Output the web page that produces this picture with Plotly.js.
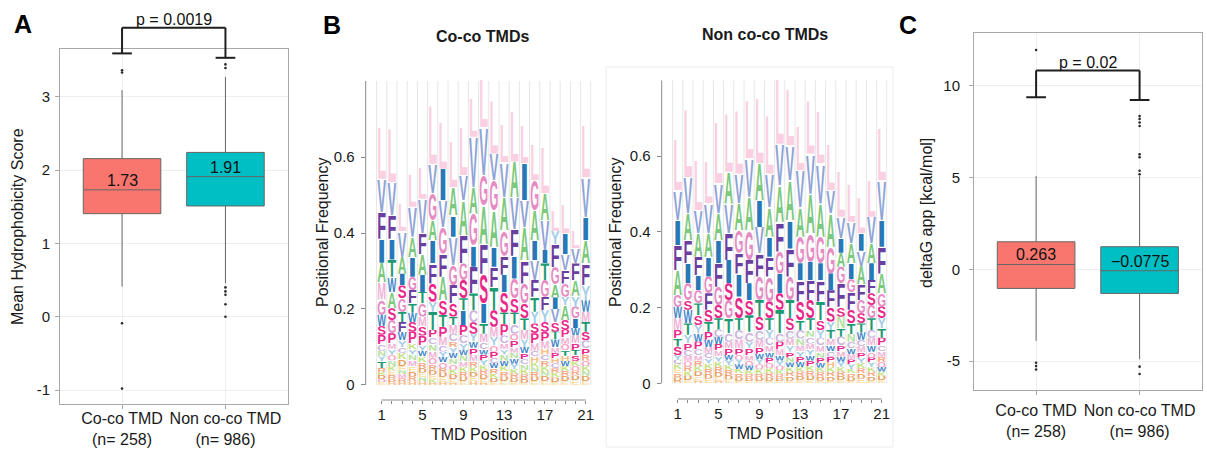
<!DOCTYPE html>
<html><head><meta charset="utf-8">
<script src="https://cdn.plot.ly/plotly-3.0.1.min.js"></script>
<style>html,body{margin:0;padding:0;background:#fff}#chart{width:1207px;height:449px}</style>
</head><body><div id="chart"></div>
<script>
// ---------------- DATA ----------------
const boxCats = ["Co-co TMD<br>(n= 258)", "Non co-co TMD<br>(n= 986)"];
const boxColors = ["#F8766D", "#00BFC4"];

// Panel A: mean hydrophobicity score
const hydroQ1 = [1.405, 1.51];
const hydroMedian = [1.73, 1.91];
const hydroQ3 = [2.155, 2.24];
const hydroLower = [0.41, 0.455];
const hydroUpper = [3.09, 3.27];
const hydroOutCoco = [3.36, 3.33, -0.09, -0.98];
const hydroOutNon = [3.44, 3.39, 0.40, 0.345, 0.30, 0.17, 0.0];
const hydroMedianLabels = ["1.73", "1.91"];
const hydroCaps = [3.59, 3.53];
const hydroBracketTop = 3.94;
const hydroP = "p = 0.0019";
const hydroTicks = [-1, 0, 1, 2, 3];
const hydroTickText = ["-1", "0", "1", "2", "3"];

// Panel C: deltaG app
const dgQ1 = [-1.04, -1.31];
const dgMedian = [0.263, -0.0775];
const dgQ3 = [1.50, 1.23];
const dgLower = [-3.89, -4.9];
const dgUpper = [5.08, 5.1];
const dgOutCoco = [11.94, -5.09, -5.27, -5.45];
const dgOutNon = [8.35, 8.19, 7.99, 7.8, 6.26, 6.1, 5.37, 5.18, -5.3, -5.7];
const dgMedianLabels = ["0.263", "\u22120.0775"];
const dgCaps = [9.37, 9.22];
const dgBracketTop = 10.82;
const dgP = "p = 0.02";
const dgTicks = [-5, 0, 5, 10];
const dgTickText = ["-5", "0", "5", "10"];

// Panel B: sequence logos (letters listed top -> bottom, with the top of each letter)
const positions = [1,2,3,4,5,6,7,8,9,10,11,12,13,14,15,16,17,18,19,20,21];
const positionLabels = ["1","","","","5","","","","9","","","","13","","","","17","","","","21"];
const freqTicks = [0, 0.2, 0.4, 0.6];
const freqTickText = ["0", "0.2", "0.4", "0.6"];

const cocoLetters = [
 "LVFIAMGWSPCNYTRKDQE","LVFITWASGPMYQNKERDH","LVAISGTFWYCKDENMRH","LVAIGFTWSPKYNMEDRH",
 "LVFAITGMSPYWKRDENH","LVGAIFSYTPCNMQRDEKH","LIVGFASTPMCYWQRDEH","LAIVGFSTMCRYWNQKDEH",
 "LVAFGSTIPCYWNMKRDE","LVAGIFTCSYWPMRKDEH","LVGAFSITMCWPYKRDEH","LVGAIFTSMYQPCWRKDE",
 "LVAGFISTPCMYNWKRDE","LAVFIGSTCQPMNWYKRDE","LIVAFGSTMYWPCNKRDE","LGAIVFTYSPMCHKNRDE",
 "LAVITGFYSPMHCRKNDE","LYFGAIVSTWMPHCRKDE","LIVFGYASPMQTHWKRDE","LVFAYGIWMPTSKQRDE",
 "LVIAFYWMTSCPRQKNDE"];
const cocoTops = [
 [.683,.543,.455,.385,.322,.27,.225,.185,.155,.132,.108,.09,.075,.062,.045,.034,.026,.016,.008],
 [.679,.534,.447,.385,.33,.285,.245,.202,.171,.136,.11,.095,.08,.065,.05,.038,.026,.015,.007],
 [.477,.405,.337,.293,.262,.228,.193,.166,.14,.118,.10,.085,.068,.05,.038,.028,.018,.008],
 [.556,.469,.39,.337,.285,.25,.215,.19,.166,.14,.11,.095,.08,.065,.05,.035,.022,.01],
 [.573,.49,.40,.345,.29,.245,.215,.18,.155,.13,.105,.09,.075,.06,.045,.032,.02,.01],
 [.74,.582,.504,.434,.381,.32,.267,.219,.193,.145,.125,.108,.09,.072,.055,.04,.027,.015,.006],
 [.696,.569,.486,.416,.346,.285,.223,.184,.153,.127,.105,.088,.074,.06,.045,.032,.02,.008],
 [.644,.521,.447,.39,.315,.263,.215,.18,.158,.136,.115,.1,.085,.07,.055,.04,.028,.015,.006],
 [.683,.552,.486,.394,.32,.276,.228,.197,.158,.131,.11,.092,.078,.062,.048,.035,.022,.01],
 [.758,.653,.521,.451,.368,.311,.241,.197,.165,.135,.115,.098,.08,.062,.048,.035,.022,.01],
 [.81,.679,.552,.473,.372,.293,.215,.162,.135,.112,.095,.08,.066,.052,.04,.028,.016,.006],
 [.753,.609,.539,.46,.364,.311,.258,.197,.153,.127,.105,.088,.072,.058,.044,.03,.018,.007],
 [.688,.587,.495,.407,.34,.29,.245,.19,.16,.13,.11,.095,.08,.064,.05,.036,.022,.01],
 [.723,.588,.495,.41,.34,.28,.228,.19,.16,.135,.118,.1,.085,.07,.056,.042,.03,.018,.007],
 [.683,.583,.486,.416,.328,.267,.215,.175,.145,.12,.1,.083,.068,.054,.04,.028,.016,.006],
 [.635,.539,.46,.381,.328,.276,.232,.193,.162,.136,.11,.09,.075,.06,.047,.035,.022,.01],
 [.626,.504,.434,.355,.32,.276,.232,.197,.166,.14,.115,.096,.08,.065,.05,.037,.024,.01],
 [.46,.405,.37,.31,.265,.23,.2,.165,.14,.12,.1,.085,.07,.057,.044,.032,.02,.008],
 [.477,.40,.345,.302,.267,.232,.21,.171,.145,.125,.108,.092,.077,.063,.05,.037,.024,.01],
 [.407,.36,.32,.276,.235,.206,.175,.15,.13,.11,.092,.078,.064,.05,.038,.025,.012],
 [.688,.547,.442,.381,.32,.263,.223,.193,.166,.14,.118,.097,.08,.064,.05,.037,.024,.01]];

const nonLetters = [
 "LVIFAGWMPTSYCKERDH","LVAFIGSWTYPCMQRKDE","LVAFIGTSYWPCMRKDEH","LVAIGFSTPWMCYKRDE",
 "LVAIFGSTCWPMYKRDEH","LAVFISGTCMPWYKRDE","LVAGFISTCMPQYWKRDE","LVAGFISTCYPMQWKRDE",
 "LAIVFGTSCMPWYQKRDE","LVAIFGSTYCMWPQKRDE","LVAFGISTCPMWYQKRDE","LVAIFGTSCMYPNWKRDE",
 "LVAGIFSTCNMYPWKRDE","LVAGIFSTNCMYWPKRDE","LVAGIFTSYCMNPWKRDE","LVAGIFSYTMWCPHKRDE",
 "LVIAGFSNTCPMWYKRDE","LVAIGFSTNCWMPYKRDE","LIVAFGSTWCMPYKRDE","LVAIFSGTCMWQPYKRDE",
 "LVIFAGSYTPCMRQWKDE"];
const nonTops = [
 [.647,.51,.431,.365,.299,.233,.202,.172,.141,.119,.097,.075,.062,.05,.038,.026,.015,.006],
 [.73,.545,.449,.378,.317,.264,.22,.194,.158,.128,.106,.088,.072,.058,.045,.032,.02,.008],
 [.589,.457,.396,.334,.286,.246,.211,.18,.154,.132,.11,.09,.074,.06,.046,.032,.018,.007],
 [.589,.475,.396,.334,.282,.238,.194,.163,.136,.115,.096,.08,.066,.052,.038,.025,.012],
 [.695,.528,.449,.378,.317,.255,.207,.172,.142,.123,.104,.087,.072,.057,.043,.03,.017,.007],
 [.717,.559,.475,.396,.326,.264,.22,.172,.132,.11,.092,.075,.062,.048,.035,.022,.01],
 [.726,.554,.475,.405,.345,.29,.229,.172,.14,.116,.092,.076,.062,.05,.038,.026,.015,.006],
 [.748,.594,.493,.405,.326,.264,.22,.18,.136,.11,.092,.075,.06,.047,.035,.024,.013,.005],
 [.757,.581,.484,.413,.343,.282,.22,.176,.14,.115,.095,.078,.064,.05,.037,.025,.014,.005],
 [.713,.554,.466,.387,.334,.282,.216,.172,.141,.119,.1,.083,.068,.054,.04,.028,.016,.006],
 [.81,.633,.523,.427,.348,.29,.238,.194,.132,.11,.09,.074,.06,.047,.035,.024,.013,.005],
 [.779,.629,.537,.431,.356,.282,.22,.172,.14,.118,.1,.083,.068,.055,.042,.03,.018,.007],
 [.682,.563,.466,.387,.317,.273,.216,.167,.141,.118,.1,.084,.07,.056,.043,.031,.019,.008],
 [.752,.607,.501,.396,.321,.273,.22,.172,.141,.123,.105,.09,.075,.06,.046,.033,.02,.008],
 [.721,.581,.475,.387,.317,.273,.216,.167,.141,.119,.1,.083,.068,.054,.041,.029,.017,.007],
 [.633,.51,.449,.361,.29,.246,.202,.163,.141,.118,.1,.085,.07,.056,.043,.03,.018,.007],
 [.563,.44,.383,.345,.308,.264,.202,.176,.145,.123,.1,.085,.07,.057,.044,.031,.019,.008],
 [.528,.427,.37,.317,.275,.24,.194,.158,.13,.11,.092,.077,.063,.05,.038,.026,.015,.006],
 [.49,.396,.35,.31,.262,.22,.185,.158,.135,.115,.098,.082,.068,.054,.04,.026,.012],
 [.537,.44,.37,.317,.273,.238,.207,.172,.141,.12,.1,.083,.068,.055,.042,.03,.018,.007],
 [.677,.537,.431,.361,.29,.238,.202,.172,.145,.12,.1,.085,.07,.056,.043,.031,.02,.008]];

const letterColors = {
 L:"#f9cfe1", V:"#8fa3d6", I:"#2878b8", F:"#6b3fa0", A:"#7cc87c", G:"#e58cc4",
 S:"#e8288a", T:"#1e9a72", M:"#f0b3d6", W:"#3f86c6", Y:"#a4cde6", P:"#ea2a8c",
 C:"#cbb3dc", N:"#b5e0a0", K:"#c4e27e", R:"#f6a988", Q:"#f7a3c4", D:"#e7a064",
 E:"#fbe0a8", H:"#f9bd86"
};

// ---------------- LAYOUT GEOMETRY ----------------
const W = 1207, H = 449;
const px = v => v / W, py = v => 1 - v / H;
const FONT = "Liberation Sans, Arial, Helvetica, sans-serif";
const txt = "#1a1a1a";

const hydroRange = [-1.19, 3.65];
const dgRange = [-6.57, 12.85];
const catRange = [-0.6, 1.6];
const logoXRange = [-0.57, 21.59];
const cocoYRange = [-0.0395, 0.815];
const nonYRange = [-0.0415, 0.815];

// ---------------- TRACES ----------------
const traces = [];
function addBoxes(xa, ya, q1, med, q3, lo, hi, outA, outB) {
  for (let i = 0; i < 2; i++) {
    traces.push({type: "box", xaxis: xa, yaxis: ya, x: [boxCats[i]],
      q1: [q1[i]], median: [med[i]], q3: [q3[i]], lowerfence: [lo[i]], upperfence: [hi[i]],
      fillcolor: boxColors[i], line: {color: "#666666", width: 1}, whiskerwidth: 0,
      width: 0.75, boxpoints: false, showlegend: false, hoverinfo: "skip"});
  }
  [outA, outB].forEach((arr, i) => {
    traces.push({type: "scatter", mode: "markers", xaxis: xa, yaxis: ya,
      x: arr.map(() => boxCats[i]), y: arr, marker: {size: 2.6, color: "#2a2a2a"},
      showlegend: false, hoverinfo: "skip"});
  });
}
addBoxes("x", "y", hydroQ1, hydroMedian, hydroQ3, hydroLower, hydroUpper, hydroOutCoco, hydroOutNon);
addBoxes("x4", "y4", dgQ1, dgMedian, dgQ3, dgLower, dgUpper, dgOutCoco, dgOutNon);
// empty traces to make logo subplots exist
traces.push({type: "scatter", mode: "markers", x: [], y: [], xaxis: "x2", yaxis: "y2", showlegend: false});
traces.push({type: "scatter", mode: "markers", x: [], y: [], xaxis: "x3", yaxis: "y3", showlegend: false});

// ---------------- LOGO IMAGES ----------------
const glyphCache = {};
function glyph(letter) {
  if (!glyphCache[letter]) {
    const svg = '<svg xmlns="http://www.w3.org/2000/svg" viewBox="0 0 100 100" preserveAspectRatio="none">' +
      '<text x="50" y="100" text-anchor="middle" font-family="Liberation Sans, Arial, sans-serif" font-weight="bold" ' +
      'font-size="139" textLength="94" lengthAdjust="spacingAndGlyphs" fill="' + letterColors[letter] + '">' + letter + '</text></svg>';
    glyphCache[letter] = "data:image/svg+xml;charset=utf-8," + encodeURIComponent(svg);
  }
  return glyphCache[letter];
}
const images = [];
function addLogo(letters, tops, xa, ya) {
  letters.forEach((str, c) => {
    const t = tops[c];
    for (let j = 0; j < str.length; j++) {
      const top = t[j], bottom = j + 1 < t.length ? t[j + 1] : 0;
      images.push({source: glyph(str[j]), xref: xa, yref: ya, x: positions[c] - 0.46, y: top,
        sizex: 0.92, sizey: top - bottom, xanchor: "left", yanchor: "top", sizing: "stretch", layer: "above"});
    }
  });
}
addLogo(cocoLetters, cocoTops, "x2", "y2");
addLogo(nonLetters, nonTops, "x3", "y3");

// ---------------- SHAPES ----------------
const shapes = [];
function frac(v, r) { return (v - r[0]) / (r[1] - r[0]); }
function bracket(xa, ya, r, caps, top) {
  const yd = ya + " domain", cw = 0.095, st = {color: "#1f1f1f", width: 2};
  [0, 1].forEach(i => {
    shapes.push({type: "line", xref: xa, yref: yd, x0: i - cw, x1: i + cw, y0: frac(caps[i], r), y1: frac(caps[i], r), line: st});
    shapes.push({type: "line", xref: xa, yref: yd, x0: i, x1: i, y0: frac(caps[i], r), y1: frac(top, r), line: st});
  });
  shapes.push({type: "line", xref: xa, yref: yd, x0: 0, x1: 1, y0: frac(top, r), y1: frac(top, r), line: st});
}
bracket("x", "y", hydroRange, hydroCaps, hydroBracketTop);
bracket("x4", "y4", dgRange, dgCaps, dgBracketTop);

function logoFrame(xa, ya) {
  positions.concat([0]).forEach(p => {
    shapes.push({type: "line", xref: xa, yref: ya, x0: p + 0.5, x1: p + 0.5, y0: 0, y1: 0.8,
      line: {color: "#e6e6e6", width: 1}, layer: "below"});
  });
  shapes.push({type: "line", xref: xa + " domain", yref: ya, x0: 0, x1: 0, y0: 0, y1: 0.8, line: {color: "#8a8a8a", width: 1}});
  shapes.push({type: "line", xref: xa, yref: ya + " domain", x0: positions[0], x1: positions[positions.length - 1], y0: 0, y1: 0, line: {color: "#8a8a8a", width: 1}});
}
logoFrame("x2", "y2");
logoFrame("x3", "y3");
// faint panel frame around the non co-co logo
shapes.push({type: "rect", xref: "paper", yref: "paper", x0: px(606), x1: px(893), y0: py(447), y1: py(67),
  line: {color: "#ececec", width: 1}, layer: "below"});

// ---------------- ANNOTATIONS ----------------
const ann = [];
function label(text, x, y, opts) {
  ann.push(Object.assign({text: text, x: px(x), y: py(y), xref: "paper", yref: "paper", showarrow: false,
    xanchor: "center", yanchor: "middle", font: {family: FONT, size: 16, color: txt}}, opts || {}));
}
label("<b>A</b>", 23, 24, {font: {family: FONT, size: 25, color: "#000"}});
label("<b>B</b>", 332, 25, {font: {family: FONT, size: 25, color: "#000"}});
label("<b>C</b>", 908, 25, {font: {family: FONT, size: 25, color: "#000"}});
label("Mean Hydrophobicity Score", 17, 227, {textangle: -90});
label("Positional Frequency", 322, 233, {textangle: -90});
label("Positional Frequency", 615, 233, {textangle: -90});
label("deltaG app [kcal/mol]", 926, 213, {textangle: -90});
label("<b>Co-co TMDs</b>", 483, 36);
label("<b>Non co-co TMDs</b>", 765, 35);
label("TMD Position", 479, 434);
label("TMD Position", 775, 433);

function boxText(xa, ya, r, meds, medLabels, top, ptext) {
  [0, 1].forEach(i => ann.push({text: medLabels[i], xref: xa, yref: ya, x: i, y: meds[i], yanchor: "bottom",
    xanchor: "center", showarrow: false, yshift: -1, font: {family: FONT, size: 16, color: "#111"}}));
  ann.push({text: ptext, xref: xa, yref: ya + " domain", x: 0.5, y: frac(top, r), yanchor: "bottom",
    xanchor: "center", showarrow: false, yshift: -2, font: {family: FONT, size: 16, color: "#111"}});
}
boxText("x", "y", hydroRange, hydroMedian, hydroMedianLabels, hydroBracketTop, hydroP);
boxText("x4", "y4", dgRange, dgMedian, dgMedianLabels, dgBracketTop, dgP);

// ---------------- AXES ----------------
const tickFont = {family: FONT, size: 15, color: txt};
function boxXAxis(domain, standoff) {
  return {domain: domain, range: catRange, type: "category", categoryorder: "array", categoryarray: boxCats,
    showline: true, mirror: true, linecolor: "#a8a8a8", linewidth: 1, showgrid: true, gridcolor: "#efefef",
    ticks: "outside", ticklen: 4, tickcolor: "#a8a8a8", tickfont: {family: FONT, size: 16, color: txt},
    ticklabelstandoff: standoff, zeroline: false, fixedrange: true};
}
function boxYAxis(domain, range, tv, tt, standoff) {
  return {domain: domain, range: range, tickvals: tv, ticktext: tt, showline: true, mirror: true,
    linecolor: "#a8a8a8", linewidth: 1, showgrid: true, gridcolor: "#efefef", zeroline: false,
    ticks: "outside", ticklen: 4, tickcolor: "#a8a8a8", tickfont: tickFont, ticklabelstandoff: standoff, fixedrange: true};
}
function logoXAxis(domain) {
  return {domain: domain, range: logoXRange, tickvals: positions, ticktext: positionLabels,
    ticks: "outside", ticklen: 3, tickcolor: "#8a8a8a", tickfont: tickFont, showgrid: false,
    zeroline: false, showline: false, ticklabelstandoff: -2, fixedrange: true};
}
function logoYAxis(domain, range) {
  return {domain: domain, range: range, tickvals: freqTicks, ticktext: freqTickText,
    ticks: "outside", ticklen: 4, tickcolor: "#8a8a8a", tickfont: tickFont, showgrid: false,
    zeroline: false, showline: false, ticklabelstandoff: 3, fixedrange: true};
}

const layout = {
  width: W, height: H, margin: {l: 0, r: 0, t: 0, b: 0}, paper_bgcolor: "#fff", plot_bgcolor: "rgba(0,0,0,0)",
  showlegend: false, boxmode: "overlay", font: {family: FONT, color: txt},
  xaxis: Object.assign(boxXAxis([px(60), px(287.5)], -4), {anchor: "y"}),
  yaxis: Object.assign(boxYAxis([py(404), py(49)], hydroRange, hydroTicks, hydroTickText, 2), {anchor: "x"}),
  xaxis2: Object.assign(logoXAxis([px(365.7), px(591.7)]), {anchor: "y2"}),
  yaxis2: Object.assign(logoYAxis([py(400), py(75.3)], cocoYRange), {anchor: "x2"}),
  xaxis3: Object.assign(logoXAxis([px(661.7), px(887.7)]), {anchor: "y3"}),
  yaxis3: Object.assign(logoYAxis([py(399), py(74.8)], nonYRange), {anchor: "x3"}),
  xaxis4: Object.assign(boxXAxis([px(974), px(1201.7)], 2), {anchor: "y4"}),
  yaxis4: Object.assign(boxYAxis([py(390), py(33.3)], dgRange, dgTicks, dgTickText, 6), {anchor: "x4"}),
  shapes: shapes, annotations: ann, images: images
};

Plotly.newPlot("chart", traces, layout, {displayModeBar: false, staticPlot: true});
</script>
</body></html>
